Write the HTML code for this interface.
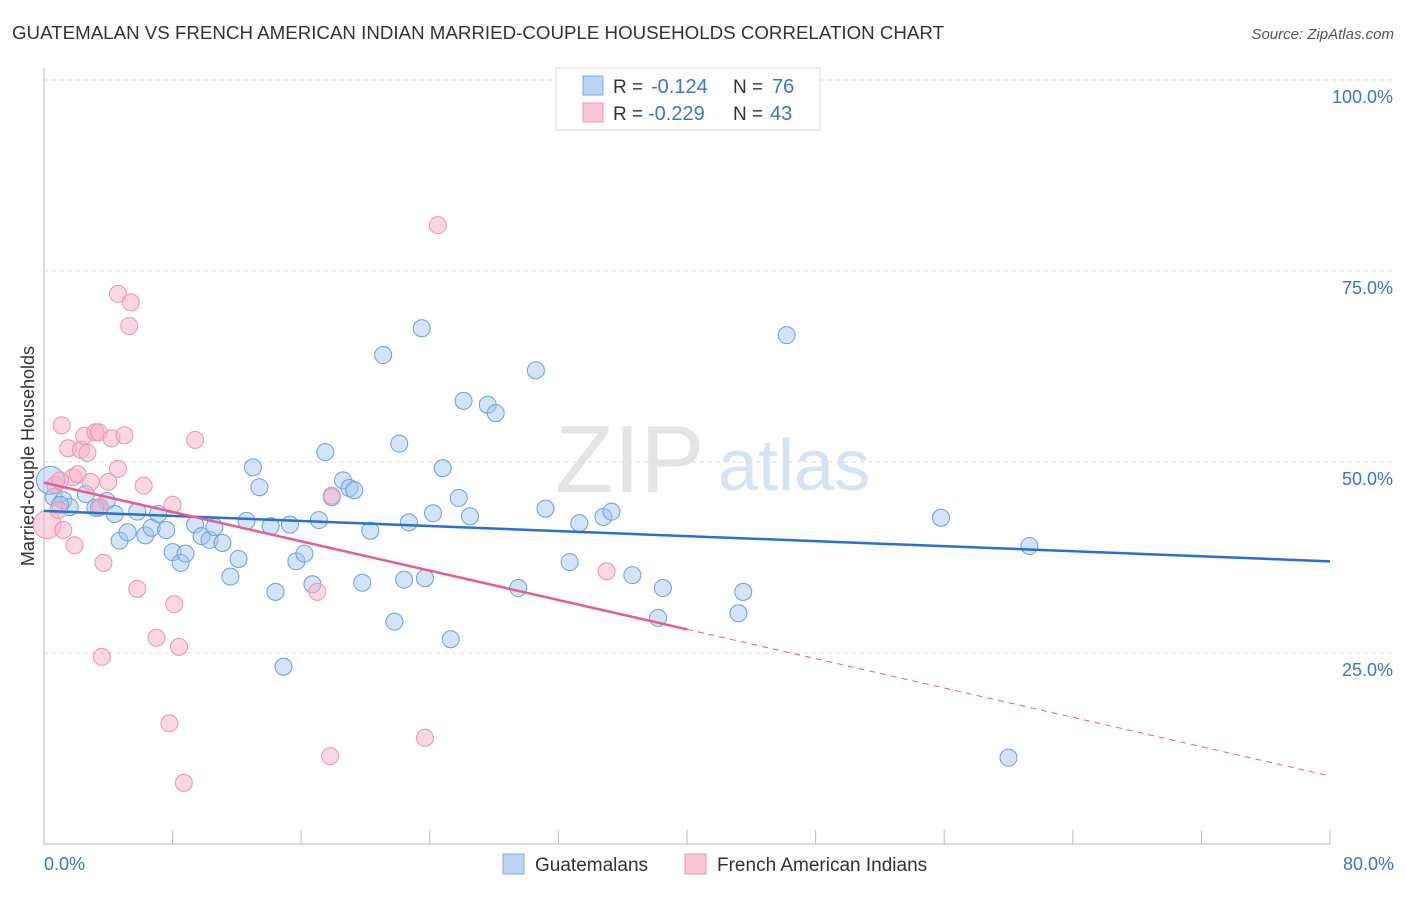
<!DOCTYPE html>
<html><head><meta charset="utf-8"><style>
body{margin:0;background:#fff;font-family:"Liberation Sans",sans-serif}
svg text{font-family:"Liberation Sans",sans-serif}
</style></head><body>
<svg id="c" width="1406" height="892" xmlns="http://www.w3.org/2000/svg">
<text x="12" y="39" font-size="18" fill="#333" textLength="932" lengthAdjust="spacingAndGlyphs">GUATEMALAN VS FRENCH AMERICAN INDIAN MARRIED-COUPLE HOUSEHOLDS CORRELATION CHART</text>
<text x="1394" y="39" font-size="15" fill="#555" font-style="italic" text-anchor="end">Source: ZipAtlas.com</text>
<text x="555" y="492" font-size="96" fill="#e4e4e4" font-family="Liberation Serif">ZIP</text>
<text x="718" y="490" font-size="72" fill="#d5e3f3">atlas</text>
<text transform="translate(34,456) rotate(-90)" font-size="18" fill="#333" text-anchor="middle">Married-couple Households</text>
<g id="grid"></g><g id="pts"></g><g id="lines"></g>
<g>
<rect x="556" y="68" width="264" height="62" fill="#fff" stroke="#ddd"/>
<rect x="583" y="76" width="20" height="19" fill="#bcd4f4" stroke="#7aa8e6"/>
<text x="613" y="93" font-size="19" fill="#333">R =</text>
<text x="651" y="93" font-size="20" fill="#3b74d1">-0.124</text>
<text x="733" y="93" font-size="19" fill="#333">N =</text>
<text x="772" y="93" font-size="20" fill="#3b74d1">76</text>
<rect x="583" y="103" width="20" height="19" fill="#fbc8d6" stroke="#ee97b0"/>
<text x="613" y="120" font-size="19" fill="#333">R =</text>
<text x="648" y="120" font-size="20" fill="#3b74d1">-0.229</text>
<text x="733" y="120" font-size="19" fill="#333">N =</text>
<text x="770" y="120" font-size="20" fill="#3b74d1">43</text>
</g>
<g>
<rect x="503" y="854" width="21" height="20" fill="#bcd4f4" stroke="#7aa8e6"/>
<text x="535" y="871" font-size="19" fill="#333">Guatemalans</text>
<rect x="685" y="854" width="21" height="20" fill="#fbc8d6" stroke="#ee97b0"/>
<text x="717" y="871" font-size="19" fill="#333">French American Indians</text>
</g>
</svg>
<script>
const xTicks=[0,8,16,24,32,40,48,56,64,72,80];
const yTicks=[25,50,75,100];
const blueX=[0.6,1.2,1.6,2.6,3.4,3.9,4.4,4.7,5.2,5.8,6.3,6.7,7.1,7.6,8.0,8.5,8.8,9.4,9.8,10.3,10.6,11.1,11.6,12.1,12.6,13.0,13.4,14.1,14.4,14.9,15.3,15.7,16.2,16.7,17.1,17.5,17.9,18.6,19.0,19.3,19.8,20.3,21.1,21.8,22.1,22.4,22.7,23.5,23.7,24.2,24.8,25.3,25.8,26.1,26.5,27.6,28.1,29.5,30.6,31.2,32.7,33.3,34.8,35.3,36.6,38.2,38.5,43.2,43.5,46.2,55.8,60.0,61.3,1.0,3.2];
const blueY=[45.4,45.0,44.1,45.8,44.0,44.9,43.2,39.7,40.8,43.5,40.4,41.4,43.2,41.1,38.2,36.8,38.0,41.8,40.3,39.8,41.5,39.4,35.0,37.3,42.3,49.3,46.7,41.6,33.0,23.2,41.8,37.0,38.0,34.0,42.4,51.3,45.4,47.6,46.6,46.3,34.2,41.0,64.0,29.1,52.4,34.6,42.1,67.5,34.8,43.3,49.2,26.8,45.3,58.0,42.9,57.5,56.4,33.5,62.0,43.9,36.9,42.0,42.8,43.5,35.2,29.6,33.5,30.2,33.0,66.6,42.7,11.3,39.0,44.4,44.0];
const pinkX=[0.7,0.9,1.1,1.2,1.5,1.8,1.9,2.1,2.3,2.5,2.7,2.9,3.2,3.4,3.7,4.0,4.2,4.6,4.6,5.0,5.4,5.3,5.8,6.2,7.0,7.8,8.0,8.1,8.4,8.7,9.4,3.6,17.0,17.8,17.9,23.7,24.5,35.0,1.0,3.5];
const pinkY=[47.0,43.7,54.8,41.1,51.8,48.0,39.1,48.4,51.6,53.4,51.2,47.4,53.9,53.9,36.8,47.4,53.1,72.0,49.1,53.5,70.9,67.8,33.4,46.9,27.0,15.8,44.4,31.4,25.8,8.0,52.9,24.5,33.0,11.5,45.6,13.9,81.0,35.7,47.6,44.1];
const bigPoints=[{s:'blue',x:0.4,y:47.6},{s:'pink',x:0.2,y:41.8}];
const blueTrend=[43.6,-0.0825];
const pinkTrend=[47.3,-0.48];
const pinkSolidEnd=40;

const X=v=>44+v/80*1286, Y=v=>844-v/100*764;
const NS='http://www.w3.org/2000/svg';
function mk(t,a,p){const e=document.createElementNS(NS,t);for(const k in a)e.setAttribute(k,a[k]);p.appendChild(e);return e;}
const g=document.getElementById('grid');
const ax=mk('line',{x1:44,y1:68,x2:44,y2:845,stroke:'#bbb'},g);


const bx=mk('line',{x1:44,y1:844,x2:1330,y2:844,stroke:'#bbb'},g);


yTicks.forEach(t=>{
 const l=mk('line',{x1:44,x2:1394,y1:Y(t),y2:Y(t),stroke:'#ddd','stroke-dasharray':'4,4'},g);
 
 
 const tx=mk('text',{x:1393,y:Y(t)+23,'font-size':18,fill:'#3b74d1','text-anchor':'end'},g);tx.textContent=t.toFixed(1)+'%';
 
 
});
xTicks.forEach(t=>{
 const l=mk('line',{x1:X(t),x2:X(t),y1:830,y2:844,stroke:'#bbb'},g);
 
 
});
[[0,'start'],[80,'end']].forEach(([t,a])=>{
 const tx=mk('text',{x:t===0?44:1394,y:870,'font-size':18,fill:'#3b74d1','text-anchor':a},g);tx.textContent=t.toFixed(1)+'%';
 
 
});
const P=document.getElementById('pts');
function dot(x,y,s,r){
 const c=mk('circle',{cx:X(x),cy:Y(y),r:r,fill:s==='blue'?'rgba(160,195,240,0.45)':'rgba(248,175,198,0.5)',stroke:s==='blue'?'#6a9fe3':'#ef93ae','stroke-width':1},P);
 
 
}
bigPoints.forEach(b=>dot(b.x,b.y,b.s,14));
blueX.forEach((x,i)=>dot(x,blueY[i],'blue',8.5));
pinkX.forEach((x,i)=>dot(x,pinkY[i],'pink',8.5));
const L=document.getElementById('lines');
const bl=mk('line',{x1:X(0),y1:Y(blueTrend[0]),x2:X(80),y2:Y(blueTrend[0]+blueTrend[1]*80),stroke:'#2a6fd6','stroke-width':2.5},L);


const pl=mk('line',{x1:X(0),y1:Y(pinkTrend[0]),x2:X(pinkSolidEnd),y2:Y(pinkTrend[0]+pinkTrend[1]*pinkSolidEnd),stroke:'#e4608c','stroke-width':2.5},L);


const pd=mk('line',{x1:X(pinkSolidEnd),y1:Y(pinkTrend[0]+pinkTrend[1]*pinkSolidEnd),x2:X(80),y2:Y(pinkTrend[0]+pinkTrend[1]*80),stroke:'#e4608c','stroke-width':1,'stroke-dasharray':'6,5'},L);


</script>
</body></html>
